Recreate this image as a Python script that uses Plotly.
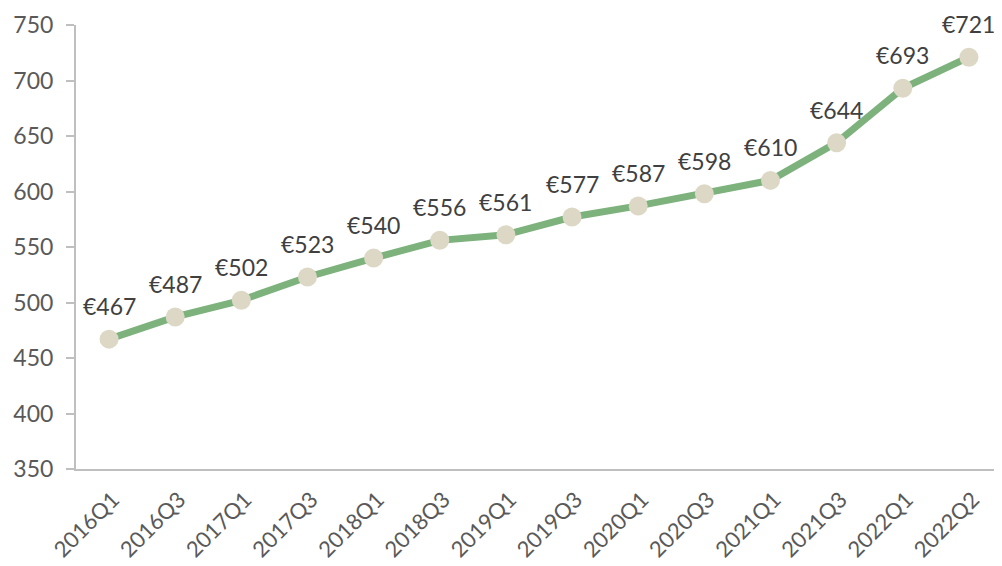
import plotly.graph_objects as go

quarters = ["2016Q1", "2016Q3", "2017Q1", "2017Q3", "2018Q1", "2018Q3", "2019Q1",
            "2019Q3", "2020Q1", "2020Q3", "2021Q1", "2021Q3", "2022Q1", "2022Q2"]
values = [467, 487, 502, 523, 540, 556, 561, 577, 587, 598, 610, 644, 693, 721]
labels = ["€" + str(v) for v in values]

fig = go.Figure()
fig.add_trace(go.Scatter(
    x=quarters, y=values, mode="lines+markers",
    line=dict(color="#7db27d", width=7),
    marker=dict(color="#ddd8c6", size=19),
    cliponaxis=False, hoverinfo="skip",
))
for q, v, t in zip(quarters, values, labels):
    fig.add_annotation(
        x=q, y=v, text=t, showarrow=False,
        xanchor="center", yanchor="bottom", yshift=17,
        font=dict(family="Lato", size=23, color="#404040"),
    )
fig.update_layout(
    width=994, height=558,
    margin=dict(l=68, r=0, t=17, b=97, autoexpand=False),
    plot_bgcolor="white", paper_bgcolor="white",
    showlegend=False,
    font=dict(family="Lato"),
)
fig.update_xaxes(
    type="category", range=[-0.5, 13.5], automargin=False,
    showline=True, linecolor="#bfbfbf", linewidth=2,
    showgrid=False, ticks="", tickangle=-45,
    ticklabelstandoff=7, ticklabelshift=4,
    tickfont=dict(family="Lato", size=22, color="#595959"),
)
fig.update_yaxes(
    range=[350, 750], dtick=50, automargin=False,
    showline=True, linecolor="#bfbfbf", linewidth=2,
    showgrid=False, zeroline=False,
    ticks="outside", ticklen=8, tickcolor="#bfbfbf", tickwidth=2,
    ticklabelstandoff=8,
    tickfont=dict(family="Lato", size=23, color="#595959"),
)
fig.write_html("out.html")
